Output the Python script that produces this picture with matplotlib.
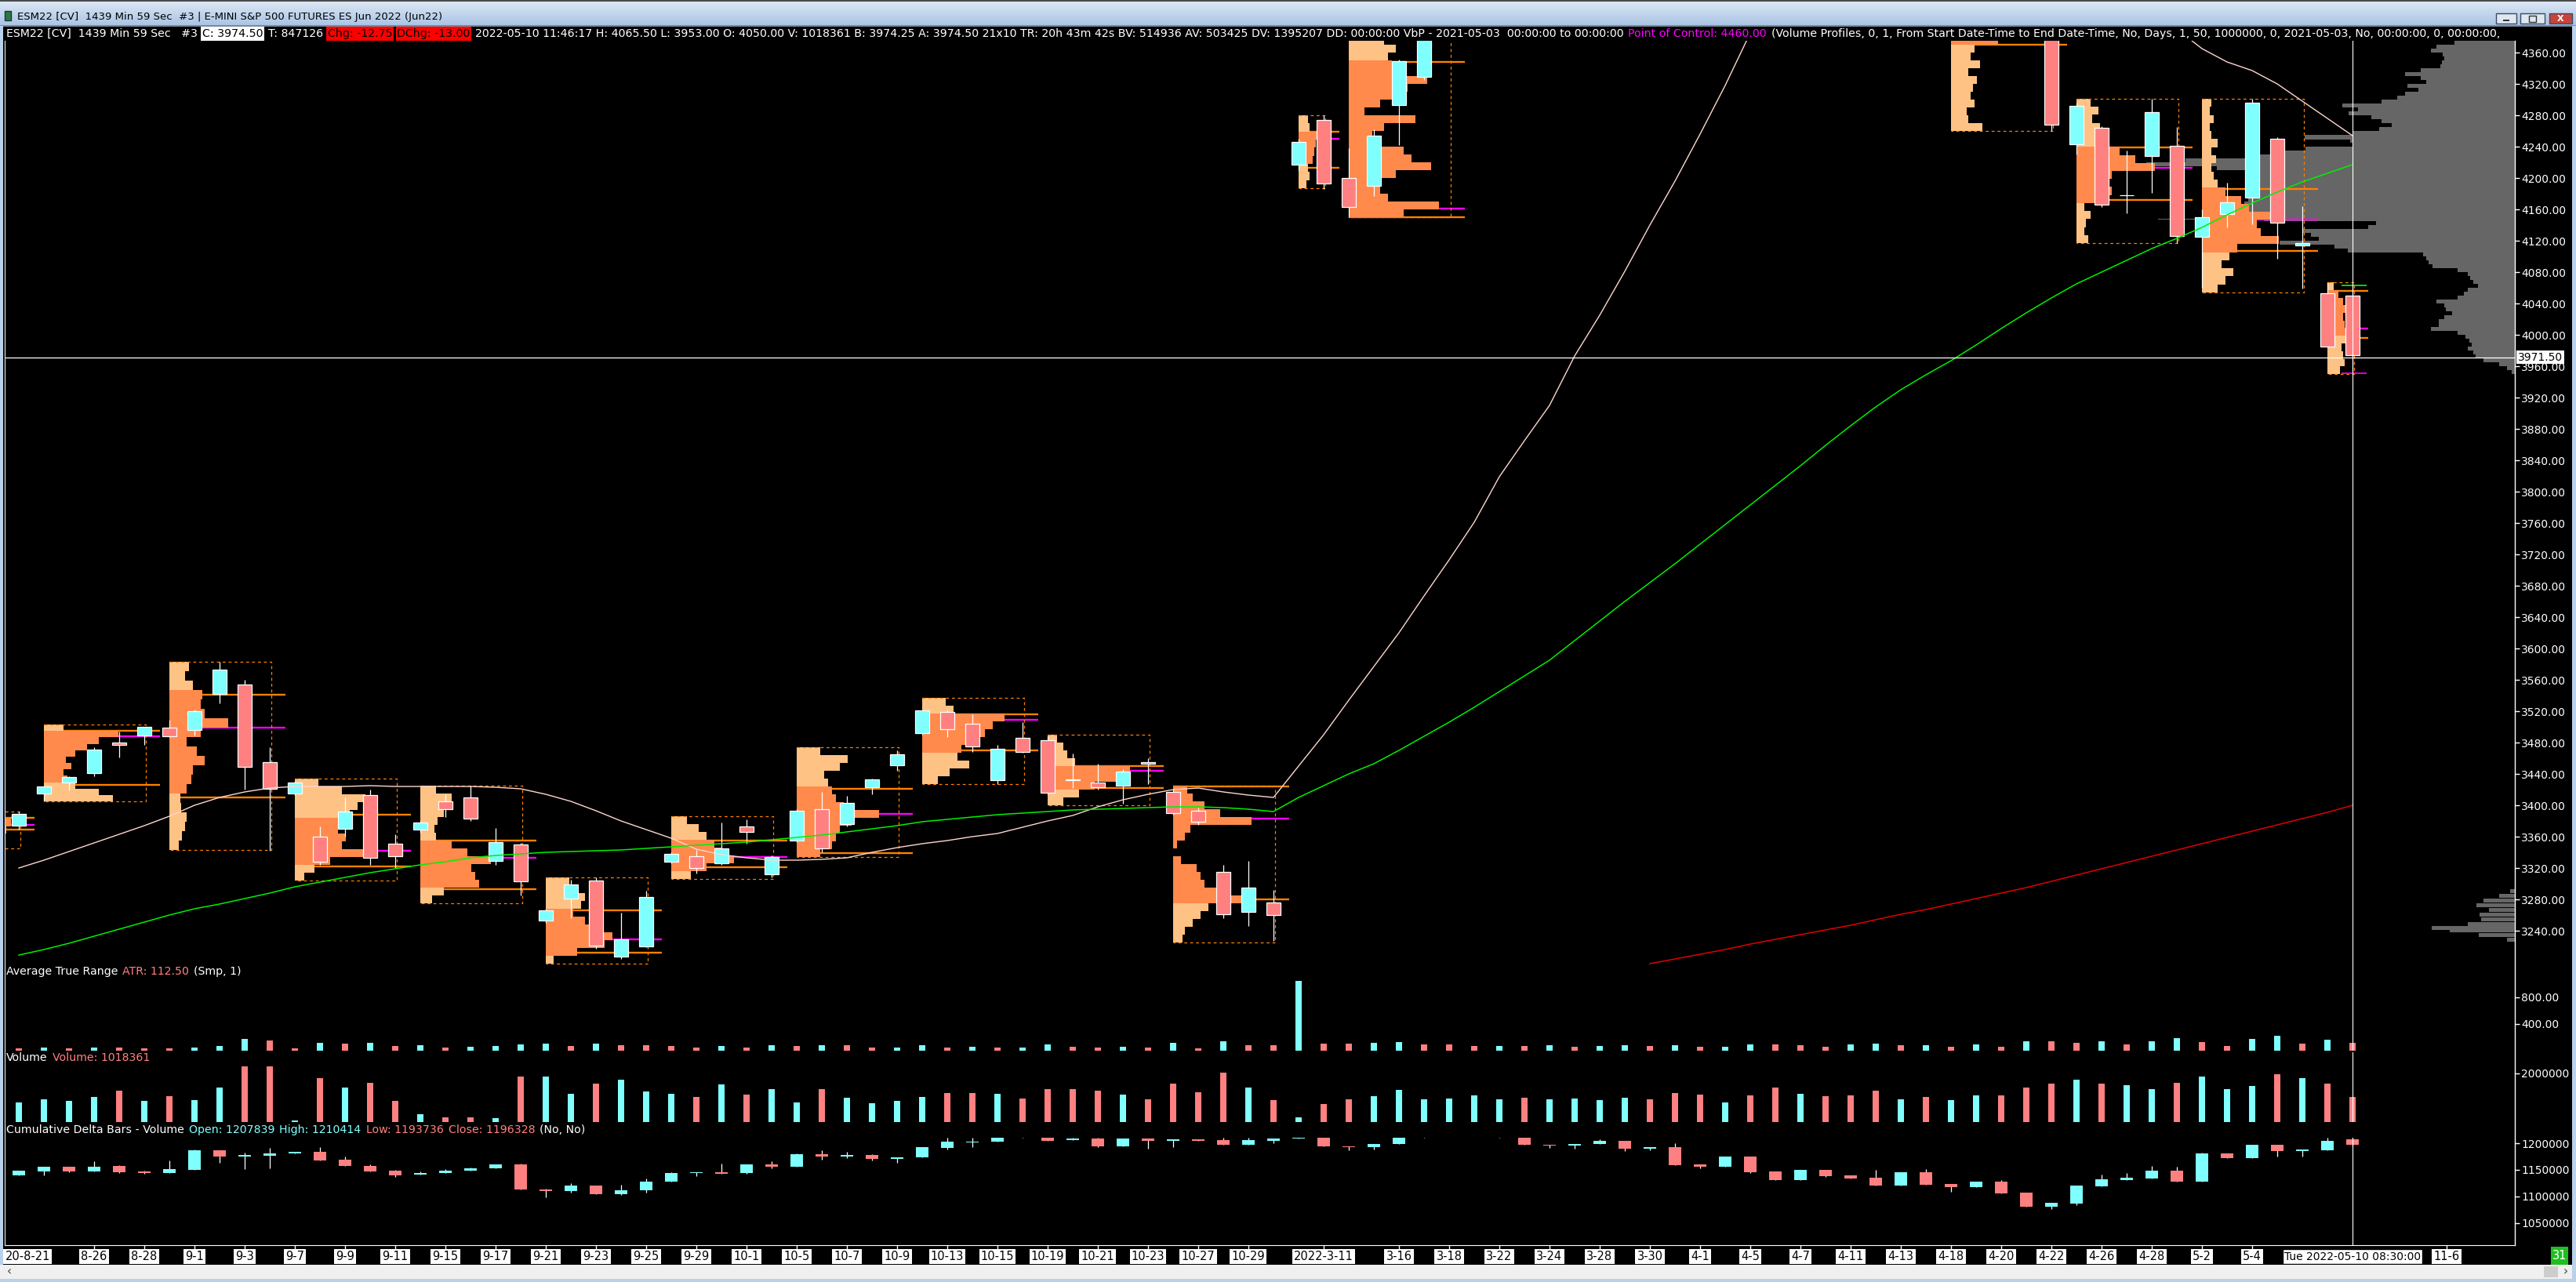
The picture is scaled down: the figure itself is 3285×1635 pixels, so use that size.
import numpy as np
import matplotlib
matplotlib.use("Agg")
import matplotlib.pyplot as plt
from matplotlib.colors import LinearSegmentedColormap
from matplotlib.patches import Rectangle

plt.rcParams['font.family'] = ['DejaVu Sans']

W, H = 3285, 1635

# ================= DATA =================

# daily bars ESM22 [CV] (2020-08-21 .. 2020-10-30, then 2022-03-10 .. 2022-05-10)
bar_open = [3374, 3415, 3429, 3441, 3480, 3489, 3499, 3496, 3542, 3554, 3455, 3415, 3360, 3370, 3413,
            3351, 3369, 3405, 3410, 3329, 3350, 3253, 3281, 3304, 3207, 3220, 3328, 3335, 3326, 3373,
            3312, 3355, 3395, 3376, 3423, 3451, 3492, 3519, 3504, 3432, 3486, 3483, 3433, 3429, 3425,
            3455.5, 3417, 3393, 3315, 3264, 3276,
            4217, 4274, 4200, 4190, 4293, 4329, 4395, 4440, 4455, 4508, 4456, 4512, 4540, 4570, 4630,
            4600, 4545, 4540, 4575, 4480, 4470, 4495, 4480, 4415, 4390, 4445, 4385, 4390, 4460, 4455,
            4390, 4243, 4264, 4177.75, 4228, 4241, 4125, 4154, 4175, 4250, 4114, 4053, 4050]
bar_high = [3392, 3424, 3437, 3474, 3494, 3500, 3509, 3522, 3583, 3560, 3474, 3431, 3373, 3410, 3420,
            3363, 3380, 3414, 3425, 3371, 3352, 3268, 3305, 3308, 3263, 3291, 3340, 3343, 3378, 3382,
            3336, 3395, 3417, 3412, 3434, 3470, 3521, 3521, 3516, 3477, 3506, 3488, 3466, 3453, 3446,
            3460, 3421, 3397, 3324, 3329, 3292,
            4250, 4280, 4238, 4262, 4351, 4410, 4465, 4472, 4515, 4515, 4518, 4545, 4572, 4635, 4636,
            4605, 4555, 4580, 4590, 4490, 4510, 4520, 4485, 4470, 4450, 4455, 4410, 4465, 4510, 4510,
            4400, 4296, 4266, 4235, 4301, 4265, 4160, 4194, 4301, 4252, 4164, 4067, 4065.5]
bar_low = [3369, 3405, 3419, 3437, 3461, 3477, 3487, 3489, 3530, 3420, 3342, 3413, 3324, 3360, 3324,
           3320, 3365, 3385, 3380, 3324, 3285, 3250, 3256, 3217, 3204, 3219, 3326, 3313, 3324, 3351,
           3308, 3353, 3340, 3373, 3414, 3444, 3490, 3487, 3468, 3427, 3467, 3414, 3422, 3420, 3402,
           3427, 3388, 3375, 3256, 3246, 3227,
           4210, 4186, 4150, 4177, 4242, 4325, 4390, 4425, 4450, 4450, 4450, 4495, 4515, 4565, 4585,
           4525, 4505, 4520, 4475, 4440, 4440, 4475, 4405, 4385, 4385, 4385, 4380, 4385, 4440, 4385,
           4260, 4230, 4163, 4155, 4181, 4117, 4060, 4137, 4141, 4097, 4059, 3984, 3953]
bar_close = [3389, 3424, 3436, 3471, 3477, 3500, 3488, 3520, 3573, 3449, 3421, 3429, 3328, 3392, 3333,
             3335, 3378, 3395, 3383, 3353, 3303, 3266, 3299, 3221, 3229, 3283, 3338, 3320, 3345, 3366,
             3334, 3393, 3345, 3403, 3433, 3465, 3521, 3497, 3475, 3472, 3468, 3416, 3432.5, 3423, 3443,
             3453.5, 3390, 3379, 3261, 3295, 3260,
             4246, 4193, 4163, 4254, 4349, 4405, 4460, 4458, 4510, 4455, 4515, 4540, 4570, 4630, 4600,
             4530, 4540, 4575, 4480, 4470, 4495, 4480, 4410, 4390, 4445, 4390, 4390, 4460, 4455, 4390,
             4268, 4292, 4166, 4178, 4284, 4126, 4150, 4169, 4296, 4143, 4117, 3985, 3974.5]

# moving averages (pink, green, red)
ma_pink = [3320, 3330, 3341, 3352, 3363, 3374, 3386, 3400, 3410, 3417, 3422, 3424, 3424, 3424, 3425,
           3424, 3424, 3424, 3424, 3423, 3421, 3414, 3405, 3393, 3380, 3369, 3358, 3344, 3337, 3333,
           3330, 3330, 3331, 3333, 3340, 3346, 3351, 3355, 3360, 3364, 3372, 3380, 3387, 3398, 3407,
           3414, 3420, 3422, 3417, 3413, 3410,
           3450, 3490, 3534, 3577, 3620, 3667, 3713, 3761, 3819, 3865, 3910, 3973, 4025, 4081, 4140,
           4196, 4256, 4318, 4385, 4420, 4455, 4480, 4500, 4510, 4515, 4518, 4515, 4510, 4500, 4490,
           4470, 4450, 4430, 4415, 4400, 4390, 4365, 4348, 4337, 4320, 4298, 4276, 4254]
ma_green = [3209, 3216, 3224, 3233, 3242, 3251, 3260, 3268, 3274, 3281, 3288, 3296, 3302, 3308, 3314,
            3319, 3324, 3328, 3333, 3336, 3338, 3340, 3341, 3342, 3343, 3345, 3347, 3349, 3351, 3353,
            3356, 3359, 3362, 3366, 3370, 3374, 3379, 3382, 3385, 3388, 3390, 3392, 3394, 3395, 3396,
            3397, 3398, 3398, 3397, 3395, 3392,
            3410, 3425, 3440, 3453, 3470, 3488, 3506, 3525, 3545, 3565, 3585, 3610, 3635, 3660, 3684,
            3708, 3733, 3758, 3783, 3808, 3833, 3859, 3884, 3908, 3930, 3949, 3967, 3987, 4008, 4028,
            4047, 4065, 4080, 4095, 4110, 4123, 4137, 4153, 4168, 4182, 4195, 4206, 4217]
ma_red = [np.nan] * 65 + [3198, 3204, 3210, 3216, 3223, 3229, 3235, 3241, 3247, 3254, 3261, 3267, 3274,
                          3281, 3288, 3295, 3303, 3311, 3319, 3327, 3335, 3343, 3351, 3359, 3367, 3375,
                          3383, 3391, 3400]

# weekly volume profiles
prof_first = [-4, 1, 6, 11, 16, 21, 26, 31, 36, 41, 46, 51, 53, 77, 82, 87, 92]
prof_last = [0, 5, 10, 15, 20, 25, 30, 35, 40, 45, 50, 52, 57, 81, 86, 91, 93]
prof_low = [3345, 3405, 3343, 3304, 3275, 3198, 3306, 3334, 3427, 3400, 3225, 4187, 4150, 4260, 4117, 4054, 3950]
prof_high = [3392, 3503, 3583, 3434, 3425, 3308, 3386, 3474, 3537, 3490, 3425, 4280, 4400, 4400, 4301, 4301, 4067]
prof_val = [3369, 3426, 3410, 3322, 3293, 3212, 3321, 3339, 3470, 3422, 3280, 4213, 4150, 4370, 4172, 4107, 3996]
prof_vah = [3384, 3495, 3541, 3388, 3355, 3266, 3355, 3421, 3516, 3450, 3424, 4259, 4348, 4480, 4239, 4186, 4056]
prof_poc = [3375, 3488, 3499, 3342, 3333, 3229, 3334, 3389, 3509, 3444, 3383, 4250, 4161, 4430, 4213, 4147, 4008]
prof_rows = [
    [60, 85, 112, 118, 95],
    [88, 70, 40, 30, 25, 35, 28, 40, 55, 70, 95, 25],
    [12, 16, 20, 22, 15, 14, 22, 28, 30, 45, 35, 22, 40, 75, 45, 40, 42, 30, 20, 25],
    [12, 25, 45, 100, 60, 65, 55, 60, 70, 80, 90, 60, 30],
    [15, 30, 75, 70, 65, 90, 60, 40, 20, 18, 22, 30, 35, 40, 20],
    [10, 40, 75, 85, 65, 50, 35, 45, 50, 40, 30],
    [25, 45, 80, 65, 55, 45, 35, 20],
    [30, 45, 50, 55, 70, 105, 60, 50, 45, 40, 35, 55, 65, 30],
    [20, 35, 60, 45, 50, 70, 80, 90, 105, 40, 30],
    [20, 40, 60, 90, 105, 35, 25, 20, 12],
    [12, 15, 25, 35, 45, 90, 55, 40, 35, 30, 10, 0, 5, 15, 22, 100, 60, 40, 25, 18],
    [10, 14, 12, 18, 20, 22, 24, 14, 12],
    [70, 115, 50, 40, 35, 60, 105, 80, 70, 40, 30, 45, 85, 20, 40, 60, 75, 100, 70, 55, 50, 60, 45, 40, 30],
    [40, 22, 20, 30, 25, 28, 33, 22, 37, 25, 30, 60, 60, 60],
    [15, 10, 12, 18, 10, 30, 45, 40, 45, 100, 75, 55, 35, 25, 30, 20, 28, 18],
    [20, 30, 40, 25, 35, 45, 98, 75, 70, 100, 60, 50, 30, 20, 15, 12, 18, 12, 20, 12, 10, 15, 10, 12],
    [16, 22, 20, 18, 23, 28, 22, 20, 24, 20, 14, 8],
]

# composite volume-by-price from 2021-05-03 (bar length in pixels from the right edge, 5-pt rows)
vbp_price = list(range(3950, 4380, 5))
vbp_len = [4, 10, 20, 40, 50, 53, 60, 55, 58, 63, 73, 107, 97, 97, 90, 80, 88, 90, 100, 73,
           65, 60, 47, 53, 57, 60, 73, 105, 110, 113, 117, 213, 230, 300, 250, 260, 270, 187, 177, 320,
           330, 340, 350, 345, 340, 335, 330, 340, 335, 330, 325, 340, 380, 470, 420, 330, 300, 267, 207, 210,
           268, 207, 173, 157, 170, 183, 212, 200, 220, 170, 150, 140, 123, 137, 113, 120, 140, 120, 95, 93,
           90, 92, 107, 100, 77, 80]
vbp_spike_price = [4147, 4217, 4221, 4249, 4292]
vbp_spike_len = [455, 469, 400, 268, 220]
vbp_low_price = [3226, 3232, 3238, 3241, 3246, 3252, 3258, 3264, 3270, 3276, 3282, 3288]
vbp_low_len = [10, 46, 83, 106, 60, 43, 45, 33, 49, 40, 20, 6]

# last-session marks near the current bar
session_high_mark = 4063
session_low_mark = 3951

# ATR (Smp, 1)
atr = [39, 47, 39, 47, 45, 39, 38, 47, 71, 176, 157, 39, 118, 110, 118, 71, 86, 47, 59, 71, 98, 110,
       71, 110, 86, 84, 71, 47, 71, 47, 78, 71, 86, 78, 47, 47, 78, 47, 59, 47, 47, 98, 59, 47, 59,
       47, 118, 39, 145, 86, 84,
       1047, 106, 104, 118, 129, 94, 92, 71, 72, 70, 82, 59, 71, 82, 71, 82, 59, 60, 94, 92, 88, 59,
       94, 106, 82, 84, 59, 94, 59, 141, 140, 118, 141, 94, 141, 188, 129, 71, 176, 224, 106, 165, 112.5]

# volume (millions of contracts)
volume = [0.80, 0.92, 0.86, 1.02, 1.28, 0.86, 1.05, 0.89, 1.41, 2.28, 2.28, 0.08, 1.80, 1.41, 1.60,
          0.86, 0.31, 0.18, 0.18, 0.15, 1.86, 1.86, 1.15, 1.57, 1.73, 1.25, 1.15, 1.02, 1.54, 1.12,
          1.34, 0.80, 1.34, 0.99, 0.76, 0.86, 1.02, 1.18, 1.18, 1.15, 0.96, 1.34, 1.34, 1.28, 1.12,
          0.92, 1.57, 1.22, 2.02, 1.41, 0.89,
          0.18, 0.73, 0.92, 1.05, 1.31, 0.92, 0.96, 1.09, 0.92, 0.99, 0.92, 0.96, 0.89, 0.99, 0.92,
          1.18, 1.12, 0.80, 1.09, 1.41, 1.15, 1.05, 1.09, 1.28, 0.92, 1.02, 0.89, 1.09, 1.09, 1.41,
          1.57, 1.73, 1.57, 1.51, 1.34, 1.60, 1.86, 1.34, 1.47, 1.96, 1.80, 1.57, 1.018361]

# cumulative delta bars (thousands)
cd_open = [1139.7, 1147.6, 1155.9, 1147.6, 1156.9, 1147.6, 1144.6, 1150.5, 1187.3, 1175.5, 1177.0,
           1180.4, 1184.3, 1169.6, 1157.9, 1148.5, 1140.7, 1143.6, 1148.1, 1152.5, 1160.3, 1113.8,
           1109.8, 1120.6, 1104.0, 1111.3, 1128.0, 1143.6, 1145.6, 1143.6, 1160.3, 1155.4, 1179.9,
           1175.5, 1178.0, 1170.1, 1173.0, 1191.7, 1202.0, 1202.5, 1218.0, 1212.0, 1205.4, 1209.3,
           1194.6, 1209.3, 1204.9, 1207.8, 1206.4, 1197.5, 1204.9,
           1208.3, 1212.0, 1194.6, 1192.2, 1198.0, 1213.0, 1220.0, 1224.0, 1213.0, 1212.0, 1197.5,
           1195.1, 1198.0, 1204.9, 1189.2, 1193.1, 1159.8, 1155.4, 1175.5, 1147.6, 1131.4, 1150.5,
           1140.2, 1135.8, 1121.1, 1146.1, 1124.1, 1118.2, 1128.5, 1107.9, 1081.4, 1087.3, 1119.7,
           1131.4, 1134.3, 1149.0, 1128.5, 1181.4, 1172.6, 1197.5, 1184.8, 1187.3, 1207.839]
cd_high = [1148.5, 1155.9, 1155.9, 1166.7, 1158.4, 1148.5, 1168.2, 1188.7, 1187.3, 1182.8, 1191.7,
           1184.3, 1193.1, 1175.0, 1160.3, 1149.5, 1147.1, 1152.0, 1154.4, 1160.3, 1161.8, 1114.7,
           1125.1, 1120.6, 1122.1, 1133.9, 1145.6, 1146.1, 1162.3, 1160.3, 1166.7, 1180.9, 1187.3,
           1184.3, 1179.4, 1174.0, 1193.1, 1210.8, 1210.8, 1215.0, 1222.0, 1213.0, 1209.8, 1209.8,
           1209.5, 1209.5, 1208.0, 1208.0, 1210.8, 1210.8, 1209.3,
           1211.0, 1213.0, 1194.6, 1199.0, 1213.0, 1222.0, 1226.0, 1226.0, 1214.0, 1213.0, 1197.5,
           1199.0, 1207.8, 1204.9, 1193.1, 1200.5, 1159.8, 1175.5, 1175.5, 1147.6, 1150.5, 1150.5,
           1140.2, 1150.5, 1146.1, 1152.0, 1124.1, 1128.5, 1130.9, 1107.9, 1088.8, 1121.1, 1141.7,
           1144.6, 1157.9, 1156.4, 1182.8, 1181.4, 1197.5, 1197.5, 1188.7, 1210.8, 1210.414]
cd_low = [1139.7, 1139.7, 1145.6, 1146.6, 1144.6, 1142.2, 1144.6, 1149.5, 1163.7, 1151.0, 1153.5,
          1180.4, 1168.2, 1156.9, 1147.6, 1136.3, 1140.7, 1143.6, 1148.1, 1152.5, 1112.8, 1098.6,
          1107.4, 1104.0, 1103.0, 1107.4, 1128.0, 1137.8, 1143.2, 1142.7, 1153.5, 1155.4, 1168.6,
          1172.6, 1167.7, 1163.3, 1173.0, 1187.7, 1192.2, 1202.5, 1211.0, 1204.9, 1205.4, 1192.6,
          1194.6, 1190.2, 1192.2, 1204.9, 1197.5, 1197.5, 1200.5,
          1208.3, 1193.6, 1186.3, 1187.7, 1198.0, 1211.0, 1216.0, 1214.0, 1210.5, 1196.6, 1190.7,
          1189.2, 1198.0, 1184.8, 1187.3, 1158.4, 1152.5, 1155.4, 1144.1, 1131.4, 1131.4, 1136.8,
          1134.3, 1121.1, 1121.1, 1122.6, 1108.4, 1118.2, 1106.4, 1081.4, 1076.0, 1083.9, 1119.7,
          1131.4, 1134.3, 1128.5, 1128.5, 1172.6, 1171.6, 1175.5, 1175.5, 1187.3, 1193.736]
cd_close = [1148.5, 1155.9, 1147.6, 1155.9, 1146.1, 1144.6, 1152.0, 1187.3, 1175.5, 1178.0, 1181.4,
            1184.3, 1168.2, 1156.9, 1147.6, 1140.2, 1144.6, 1148.5, 1153.0, 1160.3, 1112.8, 1110.3,
            1120.6, 1104.0, 1111.8, 1128.5, 1144.6, 1146.1, 1143.2, 1160.3, 1155.4, 1179.9, 1175.5,
            1178.0, 1170.1, 1174.0, 1193.1, 1203.4, 1203.4, 1213.0, 1212.0, 1204.9, 1209.3, 1194.6,
            1209.3, 1204.9, 1207.8, 1204.9, 1197.5, 1206.4, 1209.3,
            1210.8, 1193.6, 1192.2, 1199.0, 1212.0, 1220.0, 1224.0, 1218.0, 1210.5, 1196.6, 1195.1,
            1199.0, 1204.9, 1189.2, 1193.1, 1158.4, 1155.4, 1175.5, 1145.6, 1131.4, 1150.5, 1138.8,
            1134.3, 1121.1, 1146.1, 1122.6, 1118.2, 1128.5, 1106.4, 1081.4, 1088.8, 1121.1, 1132.9,
            1135.8, 1149.0, 1128.5, 1181.4, 1172.6, 1197.5, 1184.8, 1188.7, 1204.9, 1196.328]

# time axis labels (the first one is cut by the left edge in the chart)
tick_bars = [3, 5, 7, 9, 11, 13, 15, 17, 19, 21, 23, 25, 27, 29, 31, 33, 35, 37, 39, 41, 43, 45,
             47, 49, 52, 55, 57, 59, 61, 63, 65, 67, 69, 71, 73, 75, 77, 79, 81, 83, 85, 87, 89, 96.75]
tick_labels = ['8-26', '8-28', '9-1', '9-3', '9-7', '9-9', '9-11', '9-15', '9-17', '9-21',
               '9-23', '9-25', '9-29', '10-1', '10-5', '10-7', '10-9', '10-13', '10-15', '10-19',
               '10-21', '10-23', '10-27', '10-29', '2022-3-11', '3-16', '3-18', '3-22', '3-24', '3-28',
               '3-30', '4-1', '4-5', '4-7', '4-11', '4-13', '4-18', '4-20', '4-22', '4-26', '4-28',
               '5-2', '5-4', '11-6']
first_label = '20-8-21'
cursor_bar = 93
cursor_label = 'Tue 2022-05-10 08:30:00'
last_price = 3971.50

# ================= STYLE =================

CYAN = '#80ffff'
SALMON = '#ff8080'
PROF_DARK = '#ff8a4c'
PROF_LIGHT = '#ffc285'
ORANGE = '#ff8000'
MAGENTA = '#ff00ff'
GRAY = '#666666'

XL = (6 - 24) / 32
XR = (3207 - 24) / 32
PX = 1 / 32  # one pixel in bar units

fig = plt.figure(figsize=(W / 100, H / 100), dpi=100, facecolor='black')


def px_axes(x0, y0, x1, y1):
    ax = fig.add_axes([x0 / W, 1 - y1 / H, (x1 - x0) / W, (y1 - y0) / H])
    ax.set_facecolor('black')
    for s in ax.spines.values():
        s.set_visible(False)
    ax.set_xlim(XL, XR)
    ax.set_xticks([])
    return ax


def right_axis(ax, ticks, labels):
    ax.yaxis.tick_right()
    ax.set_yticks(ticks)
    ax.set_yticklabels(labels)
    ax.tick_params(axis='y', colors='white', length=4, width=1, pad=2, labelsize=10)


def draw_candles(ax, o, h, l, c, width, border, min_h, z):
    o, h, l, c = (np.asarray(a, float) for a in (o, h, l, c))
    x = np.arange(len(o))
    ax.vlines(x, l, h, color='white', lw=0.9, zorder=z)
    for i in x:
        lo = min(o[i], c[i])
        ht = max(abs(c[i] - o[i]), min_h)
        col = CYAN if c[i] >= o[i] else SALMON
        ax.add_patch(Rectangle((i - width / 2, lo), width, ht, fc=col, ec=border,
                               lw=0.9, zorder=z + 0.1))


# ================= MAIN PRICE PANEL =================

axm = px_axes(6, 52, 3207, 1232)
axm.set_ylim(4427 - 1232, 4427 - 52)
right_axis(axm, np.arange(3240, 4361, 40), ['%.2f' % t for t in np.arange(3240, 4361, 40)])

# composite profile anchored at the right edge
vl = np.asarray(vbp_len) * PX
axm.barh(vbp_price, vl, height=4.6, left=XR - vl, align='edge', color=GRAY, lw=0, zorder=1)
vl = np.asarray(vbp_spike_len) * PX
axm.barh(vbp_spike_price, vl, height=1.5, left=XR - vl, align='edge', color=GRAY, lw=0, zorder=1)
vl = np.asarray(vbp_low_len) * PX
axm.barh(vbp_low_price, vl, height=5.5, left=XR - vl, align='edge', color=GRAY, lw=0, zorder=1)

# weekly profiles
for k in range(len(prof_first)):
    left = prof_first[k]
    right = prof_last[k] + 0.06
    lo, hi = prof_low[k], prof_high[k]
    rows = np.asarray(prof_rows[k], float)
    edges = np.linspace(lo, hi, len(rows) + 1)
    rh = edges[1] - edges[0]
    mids = edges[:-1] + rh / 2
    in_va = (mids >= prof_val[k]) & (mids <= prof_vah[k])
    cols = [PROF_DARK if v else PROF_LIGHT for v in in_va]
    ext = right + 0.55
    axm.hlines(prof_poc[k], left, ext, color=MAGENTA, lw=1.7, zorder=1.5)
    axm.hlines([prof_vah[k], prof_val[k]], left, ext, color=ORANGE, lw=1.7, zorder=1.6)
    axm.barh(edges[:-1], rows * PX, height=rh, left=left, align='edge', color=cols, lw=0, zorder=2)
    axm.plot([left, right, right, left], [hi, hi, lo, lo], color=ORANGE, lw=0.9,
             ls=(0, (3, 3)), zorder=2.6)

axm.hlines([session_high_mark], cursor_bar - 0.45, cursor_bar + 0.55, color='#00ff00', lw=1.2, zorder=3)
axm.hlines([session_low_mark], cursor_bar - 0.45, cursor_bar + 0.55, color=MAGENTA, lw=1.2, zorder=3)

draw_candles(axm, bar_open, bar_high, bar_low, bar_close, 0.56, 'white', 0.6, 4)

idx = np.arange(len(bar_open))
axm.plot(idx, ma_pink, color='#ffd8d0', lw=1.0, zorder=6)
axm.plot(idx, ma_green, color='#00f000', lw=1.1, zorder=6)
axm.plot(idx, ma_red, color='#e00000', lw=1.1, zorder=6)

axm.axhline(last_price, color='white', lw=0.9, zorder=7)
axm.axvline(cursor_bar, color='white', lw=0.8, zorder=7)

# ================= ATR PANEL =================

axa = px_axes(6, 1232, 3207, 1340)
axa.set_ylim(0, 1270)
right_axis(axa, [400, 800], ['400.00', '800.00'])
atr_a = np.asarray(atr, float)
atr_prev = np.r_[np.inf, atr_a[:-1]]
axa.bar(idx, atr_a, width=0.25, color=np.where(atr_a >= atr_prev, CYAN, SALMON), lw=0)
axa.axvline(cursor_bar, color='white', lw=0.8)

# ================= VOLUME PANEL =================

axv = px_axes(6, 1342, 3207, 1431)
axv.set_ylim(0, 2.87)
right_axis(axv, [2.0], ['2000000'])
up = np.asarray(bar_close) >= np.asarray(bar_open)
axv.bar(idx, volume, width=0.25, color=np.where(up, CYAN, SALMON), lw=0)
axv.axvline(cursor_bar, color='white', lw=0.8)

# ================= CUMULATIVE DELTA PANEL =================

axd = px_axes(6, 1451, 3207, 1588)
axd.set_ylim(1008.8, 1210.3)
right_axis(axd, [1050, 1100, 1150, 1200], ['1050000', '1100000', '1150000', '1200000'])
draw_candles(axd, cd_open, cd_high, cd_low, cd_close, 0.53, 'none', 1.5, 2)
axd.axvline(cursor_bar, color='white', lw=0.8, zorder=5)

# ================= TIME AXIS =================

axx = px_axes(6, 1588, 3207, 1613)
axx.set_ylim(0, 1)
axx.set_yticks([])
axx.spines['top'].set_visible(True)
axx.spines['top'].set_color('white')
axx.vlines(tick_bars, 0.82, 1.0, color='white', lw=1)
lab_box = dict(boxstyle='square,pad=0.15', fc='white', ec='none')
for b, lab in zip(tick_bars, tick_labels):
    axx.text(b, 0.42, lab, ha='center', va='center', fontsize=10.5, color='black', clip_on=True,
             bbox=lab_box)
axx.text(XL + 0.02, 0.42, first_label, ha='left', va='center', fontsize=10.5, color='black',
         bbox=lab_box)
axx.text(cursor_bar, 0.42, cursor_label, ha='center', va='center', fontsize=10, color='black',
         clip_on=True, bbox=dict(boxstyle='square,pad=0.15', fc='white', ec='black', lw=1), zorder=5)

# ================= OVERLAY (window chrome, texts) =================

ov = fig.add_axes([0, 0, 1, 1])
ov.patch.set_alpha(0)
ov.set_zorder(5)
grad = LinearSegmentedColormap.from_list('tb', ['#dde8f5', '#a9c4e4'])
ov.imshow(np.linspace(0, 1, 32).reshape(-1, 1), cmap=grad, extent=[0, W, 33, 1], aspect='auto', zorder=0)
ov.set_xlim(0, W)
ov.set_ylim(H, 0)
ov.axis('off')

ov.add_patch(Rectangle((0, 0), W, 2, fc='#4a4a4a', ec='none', zorder=1))
ov.add_patch(Rectangle((0, 32), W, 1.5, fc='#7a8a9a', ec='none', zorder=1))
ov.add_patch(Rectangle((6, 14), 8, 12, fc='#2a7a3a', ec='#203050', lw=1, zorder=2))
ov.text(22, 21, 'ESM22 [CV]  1439 Min 59 Sec  #3 | E-MINI S&P 500 FUTURES ES Jun 2022 (Jun22)',
        fontsize=9.5, color='black', va='center', ha='left', zorder=3)
for bx, bw, fc in [(3183, 26, '#dfe7f1'), (3214, 31, '#dfe7f1'), (3251, 29, '#c8443a')]:
    ov.add_patch(Rectangle((bx, 17), bw, 13, fc=fc, ec='#3a4a66', lw=1, zorder=2))
ov.add_patch(Rectangle((3192, 25), 8, 2, fc='#333333', ec='none', zorder=3))
ov.add_patch(Rectangle((3225, 20), 9, 8, fc='none', ec='#333333', lw=1, zorder=3))
ov.text(3265.5, 23.5, 'X', fontsize=8, color='white', ha='center', va='center', weight='bold', zorder=3)

# window frame and scroll bar
ov.add_patch(Rectangle((0, 33), 4, H, fc='#b9d1ea', ec='none', zorder=1))
ov.add_patch(Rectangle((3280, 33), 5, H, fc='#b9d1ea', ec='none', zorder=1))
ov.add_patch(Rectangle((0, 1613), 3280, 18, fc='#f0f0f0', ec='none', zorder=1))
ov.add_patch(Rectangle((0, 1631), W, 4, fc='#b9d1ea', ec='none', zorder=1))
ov.add_patch(Rectangle((3244, 1615), 18, 14, fc='#cdcdcd', ec='none', zorder=2))
ov.text(12, 1622, '\u2039', fontsize=11, color='#404040', ha='center', va='center', zorder=3)
ov.text(3272, 1622, '\u203a', fontsize=11, color='#404040', ha='center', va='center', zorder=3)
ov.add_patch(Rectangle((3253, 1590), 22, 23, fc='#1fbf1f', ec='none', zorder=2))
ov.text(3264, 1601.5, '31', fontsize=10.5, color='white', ha='center', va='center', zorder=3)

# chart borders
ov.plot([5.5, 5.5], [52, 1588], color='#d0d0d0', lw=1, zorder=2)
ov.plot([3207, 3207], [52, 1588], color='white', lw=1, zorder=2)

# last price marker on the price scale
ov.text(3211, 4427 - last_price, '%.2f' % last_price, fontsize=10, color='black', ha='left',
        va='center', zorder=4, bbox=dict(boxstyle='square,pad=0.12', fc='white', ec='none'))

renderer = fig.canvas.get_renderer()


def draw_segments(x, y, segs, size, gap=6):
    made = []
    for s, fg, bg in segs:
        t = ov.text(x, y, s, color=fg, fontsize=size, ha='left', va='center', zorder=6)
        if bg:
            t.set_bbox(dict(boxstyle='square,pad=0.12', fc=bg, ec='none'))
        made.append(t)
        x += t.get_window_extent(renderer).width + gap
    return x, made


header = [
    ('ESM22 [CV]  1439 Min 59 Sec   #3', 'white', None),
    ('C: %.2f' % bar_close[-1], 'black', 'white'),
    ('T: 847126', 'white', None),
    ('Chg: -12.75', 'black', '#ff0000'),
    ('DChg: -13.00', 'black', '#ff0000'),
    ('2022-05-10 11:46:17 H: %.2f L: %.2f O: %.2f V: %d B: 3974.25 A: 3974.50 21x10 '
     'TR: 20h 43m 42s BV: 514936 AV: 503425 DV: 1395207 DD: 00:00:00 VbP - 2021-05-03  '
     '00:00:00 to 00:00:00' % (bar_high[-1], bar_low[-1], bar_open[-1], round(volume[-1] * 1e6)),
     'white', None),
    ('Point of Control: 4460.00', MAGENTA, None),
    ('(Volume Profiles, 0, 1, From Start Date-Time to End Date-Time, No, Days, 1, 50, 1000000, 0, '
     '2021-05-03, No, 00:00:00, 0, 00:00:00,', 'white', None),
]
end, made = draw_segments(8, 43, header, 10)
for t in made:
    t.remove()
head_size = 10 * (3200 - 8) / (end - 8)
draw_segments(8, 43, header, head_size)

draw_segments(8, 1239, [('Average True Range', 'white', None),
                        ('ATR: %.2f' % atr[-1], SALMON, None),
                        ('(Smp, 1)', 'white', None)], head_size)
draw_segments(8, 1349, [('Volume', 'white', None),
                        ('Volume: %d' % round(volume[-1] * 1e6), SALMON, None)], head_size)
draw_segments(8, 1441, [('Cumulative Delta Bars - Volume', 'white', None),
                        ('Open: %d' % round(cd_open[-1] * 1000), CYAN, None),
                        ('High: %d' % round(cd_high[-1] * 1000), CYAN, None),
                        ('Low: %d' % round(cd_low[-1] * 1000), SALMON, None),
                        ('Close: %d' % round(cd_close[-1] * 1000), SALMON, None),
                        ('(No, No)', 'white', None)], head_size)

fig.savefig('out.png', dpi=100, facecolor='black')
